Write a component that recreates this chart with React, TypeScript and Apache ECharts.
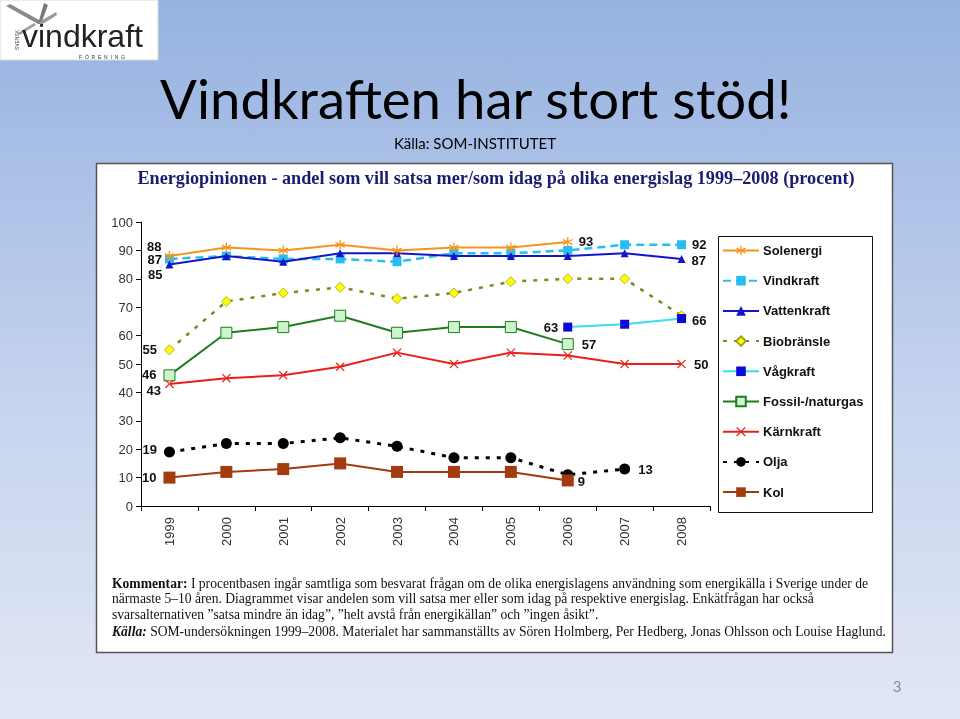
import React, { useEffect, useRef } from "react";
import * as echarts from "echarts";

const years = ["1999", "2000", "2001", "2002", "2003", "2004", "2005", "2006", "2007", "2008"];
const yTicks = [0, 10, 20, 30, 40, 50, 60, 70, 80, 90, 100];

const solenergi = [88, 91, 90, 92, 90, 91, 91, 93, null, null];
const vindkraft = [87, 88, 87, 87, 86, 89, 89, 90, 92, 92];
const vattenkraft = [85, 88, 86, 89, 89, 88, 88, 88, 89, 87];
const biobransle = [55, 72, 75, 77, 73, 75, 79, 80, 80, 67];
const vagkraft = [null, null, null, null, null, null, null, 63, 64, 66];
const fossil = [46, 61, 63, 67, 61, 63, 63, 57, null, null];
const karnkraft = [43, 45, 46, 49, 54, 50, 54, 53, 50, 50];
const olja = [19, 22, 22, 24, 21, 17, 17, 11, 13, null];
const kol = [10, 12, 13, 15, 12, 12, 12, 9, null, null];

const seriesNames = [
  "Solenergi",
  "Vindkraft",
  "Vattenkraft",
  "Biobränsle",
  "Vågkraft",
  "Fossil-/naturgas",
  "Kärnkraft",
  "Olja",
  "Kol",
];

const commentLines = [
  "{b|Kommentar:} I procentbasen ingår samtliga som besvarat frågan om de olika energislagens användning som energikälla i Sverige under de",
  "närmaste 5–10 åren. Diagrammet visar andelen som vill satsa mer eller som idag på respektive energislag. Enkätfrågan har också",
  "svarsalternativen ”satsa mindre än idag”, ”helt avstå från energikällan” och ”ingen åsikt”.",
  "{bi|Källa:} SOM-undersökningen 1999–2008. Materialet har sammanställts av Sören Holmberg, Per Hedberg, Jonas Ohlsson och Louise Haglund.",
];

const ASTERISK =
  "path://M4.4,0L5.6,0L5.6,10L4.4,10Z M0.4,3.1L1,2L9.6,6.9L9,8Z M0.4,6.9L1,8L9.6,3.1L9,2Z";
const CROSS =
  "path://M0.2,1.1L1.1,0.2L9.8,8.9L8.9,9.8Z M0.2,8.9L1.1,9.8L9.8,1.1L8.9,0.2Z";

const LABEL_FONT = "Liberation Sans, Arial, sans-serif";
const SERIF = "Liberation Serif, 'Times New Roman', serif";
const COMMENT_SIZE = 13.6;

type LabelSpec = { [i: number]: { pos: string; dx?: number; dy?: number } };

function mk(values: (number | null)[], labels: LabelSpec) {
  return values.map((v, i) => {
    if (v === null) return null;
    const l = labels[i];
    if (!l) return v;
    return {
      value: v,
      label: {
        show: true,
        position: l.pos,
        offset: [l.dx || 0, l.dy || 0],
        fontFamily: LABEL_FONT,
        fontWeight: "bold",
        fontSize: 13,
        color: "#111",
        distance: 4,
      },
    };
  });
}

export default function App() {
  const ref = useRef<HTMLDivElement>(null);

  useEffect(() => {
    if (!ref.current) return;
    const chart = echarts.init(ref.current, undefined, { renderer: "svg" });

    const lineSeries = (
      name: string,
      values: (number | null)[],
      labels: LabelSpec,
      color: string,
      width: number,
      type: any,
      symbol: string,
      symbolSize: number,
      itemStyle: any,
      z: number
    ) => ({
      name,
      type: "line",
      data: mk(values, labels),
      connectNulls: false,
      symbol,
      symbolSize,
      showSymbol: true,
      z,
      lineStyle: { color, width, type },
      itemStyle: { color, ...itemStyle },
      emphasis: { disabled: true },
    });

    const centered = { textAlign: "center", align: "center", textVerticalAlign: "middle", verticalAlign: "middle" };

    const option: any = {
      animation: false,
      graphic: [
        {
          type: "rect",
          z: -10,
          silent: true,
          shape: { x: 0, y: 0, width: 960, height: 719 },
          style: {
            fill: {
              type: "linear",
              x: 0,
              y: 0,
              x2: 0,
              y2: 1,
              colorStops: [
                { offset: 0, color: "#96b2e0" },
                { offset: 0.25, color: "#abc1e7" },
                { offset: 0.6, color: "#c9d6ef" },
                { offset: 1, color: "#e1e7f5" },
              ],
            },
          },
        },
        // logo
        {
          type: "rect",
          z: -5,
          shape: { x: 0, y: 0, width: 158, height: 60 },
          style: { fill: "#ffffff", stroke: "#d8d8d8", lineWidth: 1 },
        },
        {
          type: "polygon",
          z: -4,
          shape: { points: [[38, 24], [6, 6], [10, 4], [41, 21]] },
          style: { fill: "#8a8a8a" },
        },
        {
          type: "polygon",
          z: -4,
          shape: { points: [[38, 24], [44, 3], [48, 5], [41, 24]] },
          style: { fill: "#7a7a7a" },
        },
        {
          type: "polygon",
          z: -4,
          shape: { points: [[39, 22], [56, 12], [57, 15], [41, 25]] },
          style: { fill: "#9a9a9a" },
        },
        {
          type: "polygon",
          z: -4,
          shape: { points: [[36, 25], [20, 35], [18, 33], [34, 23]] },
          style: { fill: "#a0a0a0" },
        },
        {
          type: "text",
          z: 5,
          x: 22,
          y: 52,
          style: {
            text: "vindkraft",
            fontFamily: "Liberation Sans, Arial, sans-serif",
            fontSize: 32,
            fill: "#222",
            textAlign: "left",
            align: "left",
            textVerticalAlign: "bottom",
            verticalAlign: "bottom",
          },
        },
        {
          type: "text",
          z: 5,
          x: 102,
          y: 56.5,
          style: {
            text: "F  Ö  R  E  N  I  N  G",
            fontFamily: "Liberation Sans, Arial, sans-serif",
            fontSize: 5,
            fill: "#333",
            ...centered,
          },
        },
        {
          type: "text",
          z: 5,
          x: 17,
          y: 40,
          rotation: Math.PI / 2,
          style: {
            text: "SVENSK",
            fontFamily: "Liberation Sans, Arial, sans-serif",
            fontSize: 5,
            fill: "#333",
            ...centered,
          },
        },
        // slide title
        {
          type: "text",
          z: 5,
          x: 160,
          y: 98,
          style: {
            text: "Vindkraften har stort stöd!",
            fontFamily: "Lato, 'Open Sans', sans-serif",
            fontSize: 54.5,
            fill: "#000",
            textAlign: "left",
            align: "left",
            textVerticalAlign: "middle",
            verticalAlign: "middle",
          },
        },
        {
          type: "text",
          z: 5,
          x: 475,
          y: 143,
          style: {
            text: "Källa: SOM-INSTITUTET",
            fontFamily: "Lato, 'Open Sans', sans-serif",
            fontSize: 15,
            fill: "#000",
            ...centered,
          },
        },
        // chart box
        {
          type: "rect",
          z: -5,
          shape: { x: 96.5, y: 163.5, width: 796, height: 489 },
          style: { fill: "#ffffff", stroke: "#555", lineWidth: 1.5 },
        },
        {
          type: "text",
          z: 5,
          x: 496,
          y: 178,
          style: {
            text: "Energiopinionen - andel som vill satsa mer/som idag på olika energislag 1999–2008 (procent)",
            fontFamily: SERIF,
            fontWeight: "bold",
            fontSize: 18.2,
            fill: "#1c1c6e",
            ...centered,
          },
        },
        // legend box
        {
          type: "rect",
          z: -4,
          shape: { x: 718.5, y: 236.5, width: 154, height: 276 },
          style: { fill: "#ffffff", stroke: "#111", lineWidth: 1 },
        },
        ...commentLines.map((t, i) => ({
          type: "text",
          z: 5,
          x: 112,
          y: [583, 598.5, 614, 631][i],
          style: {
            text: t,
            fontFamily: SERIF,
            fontSize: COMMENT_SIZE,
            fill: "#111",
            textAlign: "left",
            align: "left",
            textVerticalAlign: "middle",
            verticalAlign: "middle",
            rich: {
              b: {
                fontFamily: SERIF,
                fontSize: COMMENT_SIZE,
                fontWeight: "bold",
                fill: "#111",
                color: "#111",
              },
              bi: {
                fontFamily: SERIF,
                fontSize: COMMENT_SIZE,
                fontWeight: "bold",
                fontStyle: "italic",
                fill: "#111",
                color: "#111",
              },
            },
          },
        })),
        {
          type: "text",
          z: 5,
          x: 897,
          y: 686,
          style: {
            text: "3",
            fontFamily: "Lato, 'Open Sans', sans-serif",
            fontSize: 15,
            fill: "#8a8a8a",
            ...centered,
          },
        },
      ],
      grid: { left: 141, top: 222, width: 569, height: 284, containLabel: false },
      legend: {
        orient: "vertical",
        left: 717,
        top: 239,
        itemWidth: 36,
        itemHeight: 12,
        itemGap: 17.2,
        selectedMode: false,
        data: seriesNames,
        textStyle: {
          fontFamily: LABEL_FONT,
          fontWeight: "bold",
          fontSize: 13,
          color: "#111",
          padding: [0, 0, 0, -1],
        },
      },
      xAxis: {
        type: "category",
        data: years,
        boundaryGap: true,
        axisLine: { lineStyle: { color: "#000", width: 1 } },
        axisTick: { show: true, length: 5, lineStyle: { color: "#000" } },
        axisLabel: {
          rotate: 90,
          margin: 11,
          fontFamily: LABEL_FONT,
          fontSize: 13,
          color: "#333",
          interval: 0,
        },
        splitLine: { show: false },
      },
      yAxis: {
        type: "value",
        min: yTicks[0],
        max: yTicks[yTicks.length - 1],
        interval: 10,
        axisLine: { show: true, lineStyle: { color: "#000", width: 1 } },
        axisTick: { show: true, length: 5, lineStyle: { color: "#000" } },
        axisLabel: {
          margin: 8,
          fontFamily: LABEL_FONT,
          fontSize: 13,
          color: "#333",
        },
        splitLine: { show: false },
      },
      series: [
        lineSeries(
          "Solenergi",
          solenergi,
          { 0: { pos: "left", dx: 1, dy: -10 }, 7: { pos: "right", dx: 2 } },
          "#f7941d",
          2,
          "solid",
          ASTERISK,
          10,
          {},
          6
        ),
        lineSeries(
          "Vindkraft",
          vindkraft,
          { 0: { pos: "left", dx: 1, dy: 1 }, 9: { pos: "right", dx: 2 } },
          "#27bdef",
          2.5,
          [8, 5],
          "rect",
          9,
          {},
          4
        ),
        lineSeries(
          "Vattenkraft",
          vattenkraft,
          { 0: { pos: "left", dx: 1, dy: 10 }, 9: { pos: "right", dx: 2, dy: 2 } },
          "#1515c8",
          2,
          "solid",
          "triangle",
          8,
          {},
          5
        ),
        lineSeries(
          "Biobränsle",
          biobransle,
          { 0: { pos: "left", dx: -3 } },
          "#85851e",
          2.5,
          [4, 7],
          "diamond",
          10,
          { color: "#ffff00", borderColor: "#a0a020", borderWidth: 0.8 },
          3
        ),
        lineSeries(
          "Vågkraft",
          vagkraft,
          { 7: { pos: "left", dx: -1 }, 9: { pos: "right", dx: 2, dy: 2 } },
          "#3cdcf0",
          2,
          "solid",
          "rect",
          9,
          { color: "#0a0ad8" },
          4
        ),
        lineSeries(
          "Fossil-/naturgas",
          fossil,
          { 0: { pos: "left", dx: -3, dy: -1 }, 7: { pos: "right", dx: 4 } },
          "#1e7d1e",
          2,
          "solid",
          "rect",
          11,
          { color: "#cdf5cd", borderColor: "#1e7d1e", borderWidth: 1 },
          3
        ),
        lineSeries(
          "Kärnkraft",
          karnkraft,
          { 0: { pos: "left", dx: 0, dy: 7 }, 9: { pos: "right", dx: 4 } },
          "#e8201c",
          2,
          "solid",
          CROSS,
          9,
          {},
          3
        ),
        lineSeries(
          "Olja",
          olja,
          { 0: { pos: "left", dx: -3, dy: -3 }, 8: { pos: "right", dx: 4 } },
          "#000000",
          3,
          [4, 7],
          "circle",
          11,
          {},
          3
        ),
        lineSeries(
          "Kol",
          kol,
          { 0: { pos: "left", dx: -3 }, 7: { pos: "right", dx: 0, dy: 1 } },
          "#a33a10",
          2,
          "solid",
          "rect",
          12,
          {},
          3
        ),
      ],
    };

    chart.setOption(option);
    return () => chart.dispose();
  }, []);

  return (
    <div
      ref={ref}
      style={{ position: "fixed", left: 0, top: 0, width: 960, height: 719 }}
    />
  );
}
